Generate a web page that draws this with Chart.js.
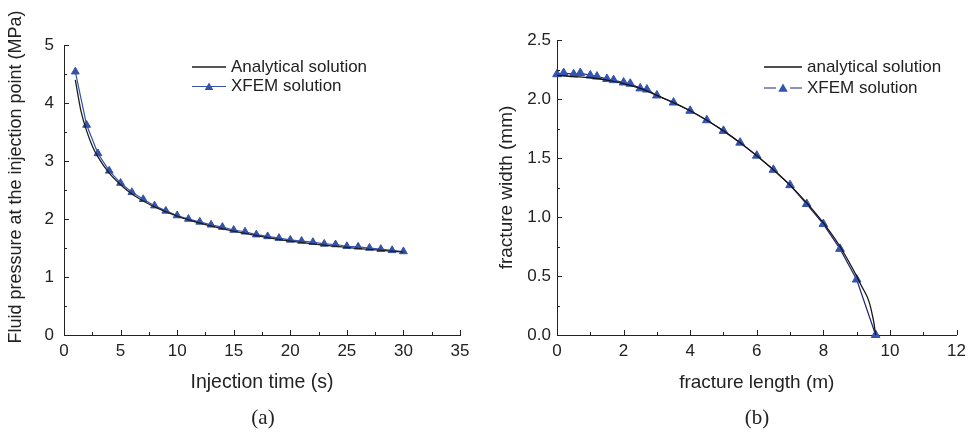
<!DOCTYPE html>
<html>
<head>
<meta charset="utf-8">
<script src="https://cdn.jsdelivr.net/npm/chart.js@4.4.0/dist/chart.umd.min.js"></script>
<style>
    body { margin: 0; background: #fff; width: 972px; height: 436px; position: relative; overflow: hidden; }
    canvas { position: absolute; top: 0; }
    .cap { position: absolute; font-family: "Liberation Serif", "Times New Roman", serif; font-size: 21px; color: #222; transform: translate(-50%, -50%); }
</style>
</head>
<body>
<canvas id="chartA" width="486" height="436" style="left:0"></canvas>
<canvas id="chartB" width="486" height="436" style="left:486px"></canvas>
<div class="cap" style="left:263px;top:417px">(a)</div>
<div class="cap" style="left:757px;top:417px">(b)</div>
<script>
// (a) injection pressure vs time
const timeAnalytical = [1, 1.5, 2, 2.5, 3, 4, 5, 6, 7, 8, 10, 12, 15, 18, 20, 25, 30];
const pressureAnalytical = [4.40, 3.86, 3.52, 3.26, 3.07, 2.79, 2.59, 2.43, 2.31, 2.21, 2.05, 1.93, 1.79, 1.68, 1.62, 1.51, 1.43];
const timeXfem = [1, 2, 3, 4, 5, 6, 7, 8, 9, 10, 11, 12, 13, 14, 15, 16, 17, 18, 19, 20, 21, 22, 23, 24, 25, 26, 27, 28, 29, 30];
const pressureXfem = [4.54, 3.62, 3.13, 2.83, 2.62, 2.46, 2.34, 2.23, 2.14, 2.06, 2.00, 1.95, 1.90, 1.86, 1.81, 1.78, 1.73, 1.70, 1.67, 1.64, 1.62, 1.60, 1.57, 1.56, 1.53, 1.52, 1.50, 1.48, 1.46, 1.44];

// (b) fracture width profile
const lengthAnalytical = [0, 0.5, 1, 1.5, 2, 2.5, 3, 3.5, 4, 4.5, 5, 5.5, 6, 6.5, 7, 7.5, 8, 8.5, 9, 9.1, 9.35, 9.5, 9.57];
const widthAnalytical = [2.20, 2.19, 2.18, 2.16, 2.13, 2.09, 2.03, 1.97, 1.90, 1.82, 1.73, 1.63, 1.52, 1.40, 1.27, 1.12, 0.95, 0.75, 0.50, 0.44, 0.30, 0.13, 0];
const lengthXfem = [0, 0.2, 0.5, 0.7, 1.0, 1.2, 1.5, 1.7, 2.0, 2.2, 2.5, 2.7, 3.0, 3.5, 4.0, 4.5, 5.0, 5.5, 6.0, 6.5, 7.0, 7.5, 8.0, 8.5, 9.0, 9.57];
const widthXfem = [2.21, 2.22, 2.21, 2.22, 2.20, 2.19, 2.17, 2.16, 2.14, 2.13, 2.09, 2.08, 2.03, 1.97, 1.90, 1.82, 1.73, 1.63, 1.52, 1.40, 1.27, 1.11, 0.94, 0.73, 0.47, 0];

const ink = '#222';
const FONT = '"Liberation Sans", Arial, sans-serif';
Chart.defaults.font.family = FONT;
Chart.defaults.color = ink;

const toPoints = (xs, ys) => xs.map((x, i) => ({ x: x, y: ys[i] }));

// small inward ticks like the original plots (major + half-step minor)
const insideTicks = {
    id: 'insideTicks',
    afterDatasetsDraw(chart, args, opts) {
        const ctx = chart.ctx, a = chart.chartArea;
        const xs = chart.scales.x, ys = chart.scales.y;
        ctx.save();
        ctx.strokeStyle = ink;
        ctx.lineWidth = 1;
        ctx.beginPath();
        const n = Math.round((xs.max - xs.min) / (opts.xStep / 2));
        for (let i = 0; i <= n; i++) {
            const px = Math.round(xs.getPixelForValue(xs.min + i * opts.xStep / 2)) + 0.5;
            ctx.moveTo(px, a.bottom);
            ctx.lineTo(px, a.bottom - (i % 2 === 0 ? 5 : 3));
        }
        const m = Math.round((ys.max - ys.min) / (opts.yStep / 2));
        for (let i = 0; i <= m; i++) {
            const py = Math.round(ys.getPixelForValue(ys.min + i * opts.yStep / 2)) + 0.5;
            ctx.moveTo(a.left, py);
            ctx.lineTo(a.left + (i % 2 === 0 ? 5 : 3), py);
        }
        ctx.stroke();
        ctx.restore();
    }
};

// rotated y title when it has to sit off-centre of the plot
const sideTitle = {
    id: 'sideTitle',
    afterDraw(chart, args, opts) {
        if (!opts.text) return;
        const ctx = chart.ctx;
        ctx.save();
        ctx.translate(opts.x, opts.y);
        ctx.rotate(-Math.PI / 2);
        ctx.font = opts.size + 'px ' + FONT;
        ctx.fillStyle = ink;
        ctx.textAlign = 'center';
        ctx.textBaseline = 'middle';
        ctx.fillText(opts.text, 0, 0);
        ctx.restore();
    }
};

function triangle(ctx, x, y, r) {
    const s = Math.sin(Math.PI / 3) * r;
    ctx.beginPath();
    ctx.moveTo(x, y - r);
    ctx.lineTo(x + s, y + r / 2);
    ctx.lineTo(x - s, y + r / 2);
    ctx.closePath();
    ctx.fill();
}

// legend drawn inside the plot area, upper right
const inlineLegend = {
    id: 'inlineLegend',
    afterDraw(chart, args, opts) {
        const ctx = chart.ctx, a = chart.chartArea;
        ctx.save();
        ctx.font = '17px ' + FONT;
        ctx.textBaseline = 'middle';
        chart.data.datasets.forEach((ds, i) => {
            const y = a.top + opts.top + i * opts.rowGap;
            const x0 = a.left + opts.left, x1 = x0 + opts.lineLen, xm = (x0 + x1) / 2;
            const hasMarker = ds.pointRadius > 0;
            ctx.strokeStyle = ds.borderColor;
            ctx.lineWidth = ds.borderWidth;
            ctx.beginPath();
            if (hasMarker && opts.gap) {
                ctx.moveTo(x0, y); ctx.lineTo(xm - opts.gap, y);
                ctx.moveTo(xm + opts.gap, y); ctx.lineTo(x1, y);
            } else {
                ctx.moveTo(x0, y); ctx.lineTo(x1, y);
            }
            ctx.stroke();
            if (hasMarker) {
                ctx.fillStyle = ds.pointBackgroundColor;
                triangle(ctx, xm, y + 1, ds.pointRadius + 0.5);
            }
            ctx.fillStyle = ink;
            ctx.fillText(ds.label, x1 + opts.textGap, y);
        });
        ctx.restore();
    }
};

function axis(min, max, step, title, extra) {
    return Object.assign({
        type: 'linear', min: min, max: max,
        grid: { display: false, drawTicks: false },
        border: { display: true, color: ink, width: 1 },
        ticks: { stepSize: step, font: { size: 17 }, color: ink },
        title: { display: true, text: title, font: { size: 19 }, color: ink }
    }, extra);
}

new Chart(document.getElementById('chartA'), {
    type: 'line',
    data: {
        datasets: [
            {
                label: 'Analytical solution',
                data: toPoints(timeAnalytical, pressureAnalytical),
                borderColor: '#1e1e1e', borderWidth: 1.3,
                pointRadius: 0, cubicInterpolationMode: 'monotone', clip: false
            },
            {
                label: 'XFEM solution',
                data: toPoints(timeXfem, pressureXfem),
                borderColor: '#3552a8', borderWidth: 1.2,
                pointStyle: 'triangle', pointRadius: 4.5,
                pointBackgroundColor: '#3552a8', pointBorderColor: '#3552a8', pointBorderWidth: 1,
                tension: 0, clip: false
            }
        ]
    },
    options: {
        responsive: false,
        animation: false,
        layout: { padding: { top: 45, right: 26, left: 0, bottom: 0 } },
        plugins: {
            legend: { display: false },
            tooltip: { enabled: false },
            insideTicks: { xStep: 5, yStep: 1 },
            sideTitle: { text: 'Fluid pressure at the injection point (MPa)', x: 16, y: 177, size: 18 },
            inlineLegend: { left: 128, top: 22, rowGap: 19.5, lineLen: 34, textGap: 5, gap: 0 }
        },
        scales: {
            x: axis(0, 35, 5, 'Injection time (s)', {
                afterFit: (s) => { s.height = 101; }
            }),
            y: axis(0, 5, 1, '', {
                afterFit: (s) => { s.width = 64; }
            })
        }
    },
    plugins: [insideTicks, inlineLegend, sideTitle]
});

const chartA = Chart.getChart('chartA');
chartA.options.scales.x.ticks.padding = 6;
chartA.options.scales.x.title.padding = { top: 0, bottom: 42 };
chartA.options.scales.x.title.font = { size: 19.5 };
chartA.options.scales.y.ticks.padding = 10;
chartA.options.scales.y.title.display = false;
chartA.update();

new Chart(document.getElementById('chartB'), {
    type: 'line',
    data: {
        datasets: [
            {
                label: 'analytical solution',
                data: toPoints(lengthAnalytical, widthAnalytical),
                borderColor: '#151515', borderWidth: 1.3,
                pointRadius: 0, tension: 0.35, clip: false
            },
            {
                label: 'XFEM solution',
                data: toPoints(lengthXfem, widthXfem),
                borderColor: '#1d2478', borderWidth: 1.2,
                pointStyle: 'triangle', pointRadius: 5,
                pointBackgroundColor: '#3553b0', pointBorderColor: '#3553b0', pointBorderWidth: 1,
                tension: 0, clip: false
            }
        ]
    },
    options: {
        responsive: false,
        animation: false,
        layout: { padding: { top: 40, right: 13, left: 0, bottom: 0 } },
        plugins: {
            legend: { display: false },
            tooltip: { enabled: false },
            insideTicks: { xStep: 2, yStep: 0.5 },
            inlineLegend: { left: 207, top: 27, rowGap: 21, lineLen: 38, textGap: 5, gap: 7 }
        },
        scales: {
            x: axis(0, 12, 2, 'fracture length (m)', {
                afterFit: (s) => { s.height = 101; }
            }),
            y: axis(0, 2.5, 0.5, 'fracture width (mm)', {
                afterFit: (s) => { s.width = 71; }
            })
        }
    },
    plugins: [insideTicks, inlineLegend]
});

const chartB = Chart.getChart('chartB');
chartB.options.scales.x.ticks.padding = 6;
chartB.options.scales.x.title.padding = { top: 0, bottom: 42 };
chartB.options.scales.y.ticks.padding = 6;
chartB.options.scales.y.ticks.callback = (v) => v.toFixed(1);
chartB.options.scales.y.title.padding = { top: 9, bottom: 0 };
chartB.update();
</script>
</body>
</html>
